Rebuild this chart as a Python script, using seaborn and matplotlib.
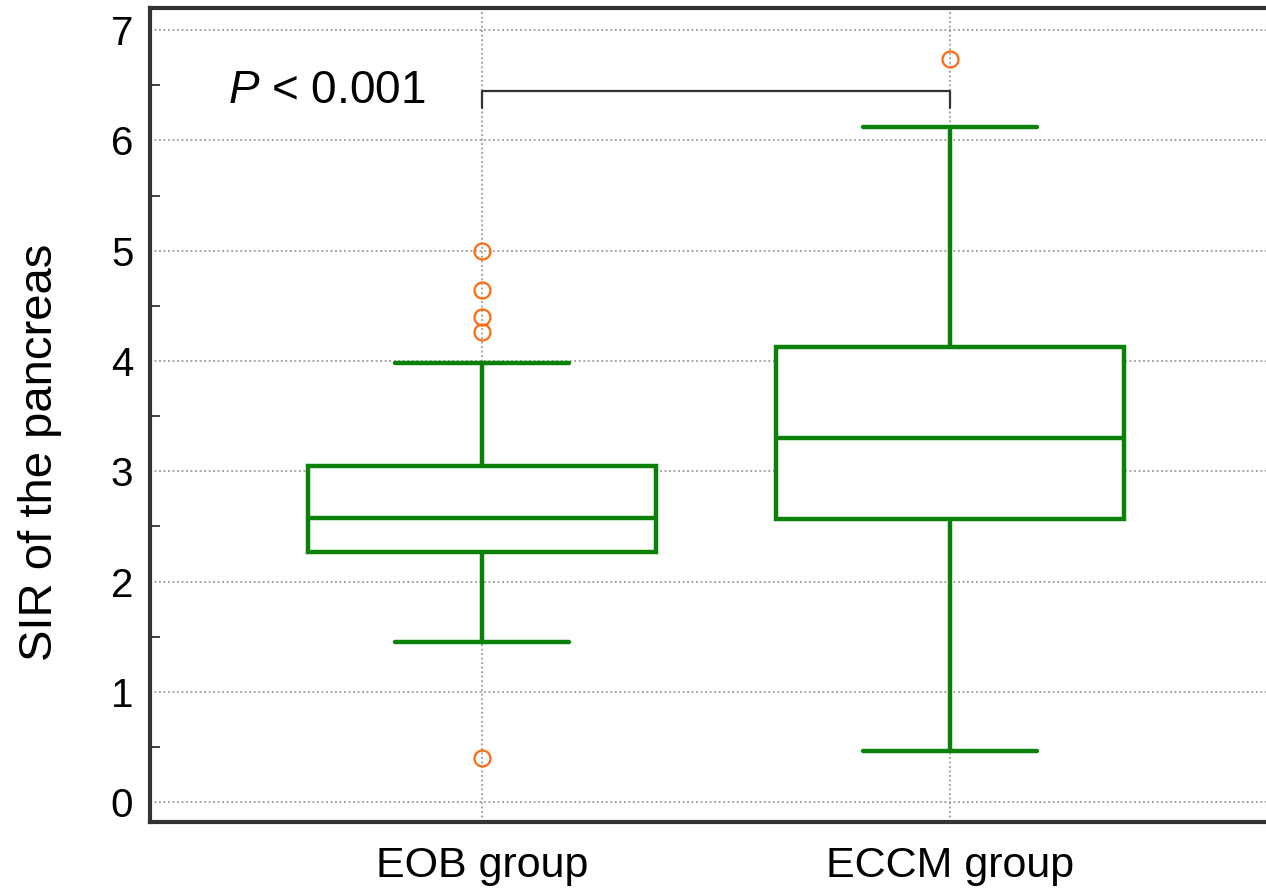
import numpy as np
import pandas as pd
import seaborn as sns
import matplotlib.pyplot as plt
from matplotlib.ticker import MultipleLocator

# box summaries
groups = ["EOB group", "ECCM group"]
whisker_lo = [1.45, 0.46]
q1 = [2.27, 2.57]
median = [2.58, 3.30]
q3 = [3.05, 4.13]
whisker_hi = [3.98, 6.12]
outliers_lo = [[0.40], []]
outliers_hi = [[4.26, 4.40, 4.64, 5.00], [6.74]]

p_text = "$P$ < 0.001"


def make_table():
    # build a small sample per group whose Tukey box reproduces the summary above
    rows = []
    for i, g in enumerate(groups):
        low = list(outliers_lo[i])
        low += [whisker_lo[i]] * (5 - len(low))
        high = list(outliers_hi[i])
        high = [whisker_hi[i]] * (5 - len(high)) + high
        vals = low + [q1[i]] * 5 + [median[i]] * 5 + [q3[i]] * 5 + high
        rows += [(g, v) for v in vals]
    return pd.DataFrame(rows, columns=["group", "sir"])


df = make_table()

sns.set_style("white")
plt.rcParams['font.family'] = ['Liberation Sans', 'DejaVu Sans']
plt.rcParams['mathtext.fontset'] = 'custom'
plt.rcParams['mathtext.it'] = 'Liberation Sans:italic'
plt.rcParams['mathtext.rm'] = 'Liberation Sans'
plt.rcParams['text.color'] = 'black'
plt.rcParams['axes.labelcolor'] = 'black'

fig = plt.figure(figsize=(12.66, 8.91), dpi=100)
ax = fig.add_axes([0.1185, 0.0774, 0.8815, 0.9136])

green = "#0a820a"
sns.boxplot(data=df, x="group", y="sir", order=groups, ax=ax,
            color="white", linecolor=green, linewidth=3.2, width=0.745,
            fliersize=11.5,
            flierprops=dict(marker="o", markerfacecolor="none",
                            markeredgecolor="#ff6a10", markeredgewidth=1.6),
            zorder=3)

ax.set_xlim(-0.709, 1.675)
ax.set_ylim(-0.18, 7.2)

ax.yaxis.set_major_locator(MultipleLocator(1))
ax.yaxis.set_minor_locator(MultipleLocator(0.5))
ax.grid(True, which="major", color="#999999", linestyle=(0, (1, 1.5)), linewidth=1.3)
ax.set_axisbelow(True)

spine_col = "#333333"
for side in ["left", "bottom", "top"]:
    ax.spines[side].set_color(spine_col)
    ax.spines[side].set_linewidth(3)
ax.spines["right"].set_visible(False)

ax.tick_params(axis="y", which="major", direction="in", length=13, width=3,
               color=spine_col, labelcolor="black", labelsize=29, pad=12)
ax.tick_params(axis="y", which="minor", direction="in", length=7, width=1.3,
               color=spine_col, left=True)
ax.tick_params(axis="x", which="major", direction="in", length=13, width=3,
               color=spine_col, labelcolor="black", labelsize=31, pad=17)

ax.set_xlabel("")
ax.set_ylabel("SIR of the pancreas", fontsize=34, va="center")
ax.yaxis.set_label_coords(-0.0986, 0.4545)

# significance bracket
yb = 6.45
ax.plot([0, 0, 1, 1], [6.29, yb, yb, 6.29], color=spine_col, linewidth=1.6, zorder=4)
ax.text(-0.332, yb, p_text, fontsize=33, ha="center", va="center")

fig.savefig("out.png", dpi=100)
